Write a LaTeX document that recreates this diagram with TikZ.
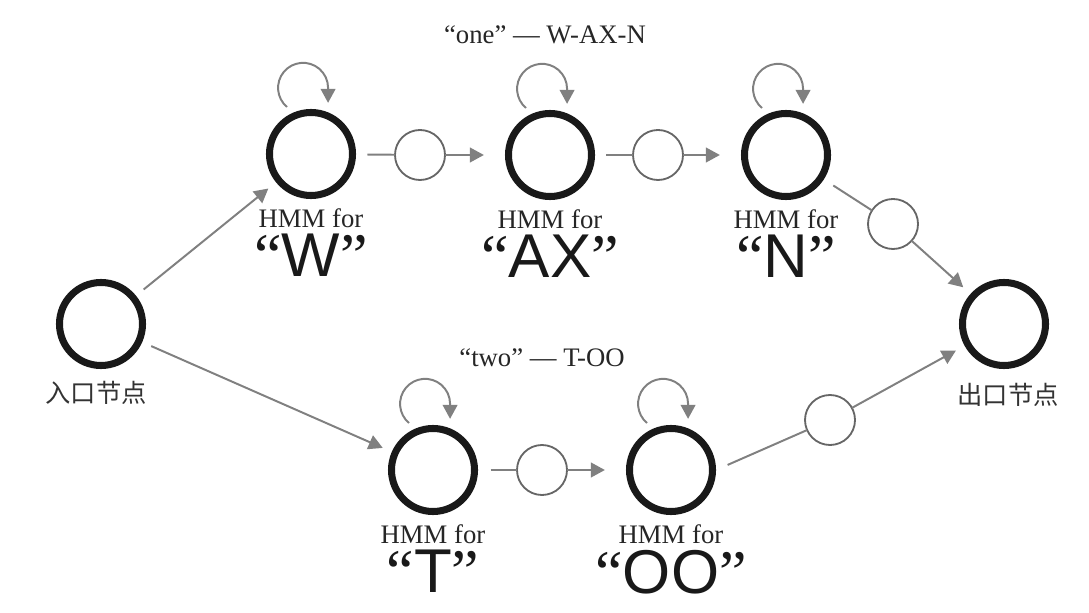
\documentclass[tikz,border=0pt]{standalone}
\usepackage{fontspec}
\setmainfont{Liberation Serif}
\setsansfont{Liberation Sans}
\newfontfamily\cjkfont{Noto Sans CJK SC}
\usetikzlibrary{
  arrows.meta,
  positioning
}

\begin{document}
\begin{tikzpicture}[
  x=0.025cm, y=0.025cm,
  state/.style={circle, draw=black!90, line width=5pt, minimum size=2.075cm, inner sep=0pt},
  gate/.style={circle, draw=black!60, line width=1.3pt, fill=white, minimum size=1.25cm, inner sep=0pt, outer sep=0pt},
  link/.style={draw=black!50, line width=1.4pt},
  arrow/.style={link, -{Triangle[length=10pt, width=10.5pt]}},
  caption/.style={font=\fontsize{19}{22}\selectfont, text=black!85, inner sep=1pt},
  phone/.style={font=\sffamily\fontsize{44}{48}\selectfont, inner sep=0pt, text=black!90},
  cjk/.style={font=\cjkfont\fontsize{18}{22}\selectfont, text=black!80}
]
\useasboundingbox (0,0) rectangle (1089,612);

\node[state] (entry) at (101,288) {};
\node[state] (W) at (311,458) {};
\node[state] (AX) at (550,457) {};
\node[state] (N) at (786,457) {};
\node[state] (exit) at (1004,288) {};
\node[state] (T) at (433,142) {};
\node[state] (OO) at (671,142) {};

\node[gate] (g1) at (420,457) {};
\node[gate] (g2) at (658,457) {};
\node[gate] (g3) at (893,388) {};
\node[gate] (g4) at (542,142) {};
\node[gate] (g5) at (830,192) {};

% word titles
\node[caption] (one) at (545,577) {“one” — W-AX-N};
\node[caption] (two) at (542,254) {“two” — T-OO};

% phone labels
\node[caption, below=6pt of W] (Whmm) {HMM for};
\node[phone, below=3pt of Whmm] (Wtag) {{\rmfamily “}W{\rmfamily ”}};
\node[caption, below=6pt of AX] (AXhmm) {HMM for};
\node[phone, below=3pt of AXhmm] (AXtag) {{\rmfamily “}AX{\rmfamily ”}};
\node[caption, below=6pt of N] (Nhmm) {HMM for};
\node[phone, below=3pt of Nhmm] (Ntag) {{\rmfamily “}N{\rmfamily ”}};
\node[caption, below=6pt of T] (Thmm) {HMM for};
\node[phone, below=3pt of Thmm] (Ttag) {{\rmfamily “}T{\rmfamily ”}};
\node[caption, below=6pt of OO] (OOhmm) {HMM for};
\node[phone, below=3pt of OOhmm] (OOtag) {{\rmfamily “}OO{\rmfamily ”}};

\node[cjk] (entrylab) at (96,219) {入口节点};
\node[cjk] (exitlab) at (1008,217) {出口节点};

% self transitions
\foreach \s in {W,AX,N,T,OO}
  \draw[arrow] ([shift={(-24,47)}]\s.center) arc[start angle=230, end angle=0, radius=25] -- ++(0,-15);

\draw[arrow, shorten <=7pt, shorten >=7pt] (entry) -- (W);
\draw[arrow, shorten <=7pt, shorten >=7pt] (entry) -- (T);

\draw[link, shorten <=8pt] (W) -- (g1);
\draw[arrow, shorten >=15pt] (g1) -- (AX);
\draw[link, shorten <=8pt] (AX) -- (g2);
\draw[arrow, shorten >=15pt] (g2) -- (N);
\draw[link, shorten <=8pt] (N) -- (g3);
\draw[arrow, shorten >=7pt] (g3) -- (exit);

\draw[link, shorten <=9pt] (T) -- (g4);
\draw[arrow, shorten >=15pt] (g4) -- (OO);
\draw[link, shorten <=9pt] (OO.east) -- (g5);
\draw[arrow, shorten >=7pt] (g5) -- (exit);
\end{tikzpicture}
\end{document}
